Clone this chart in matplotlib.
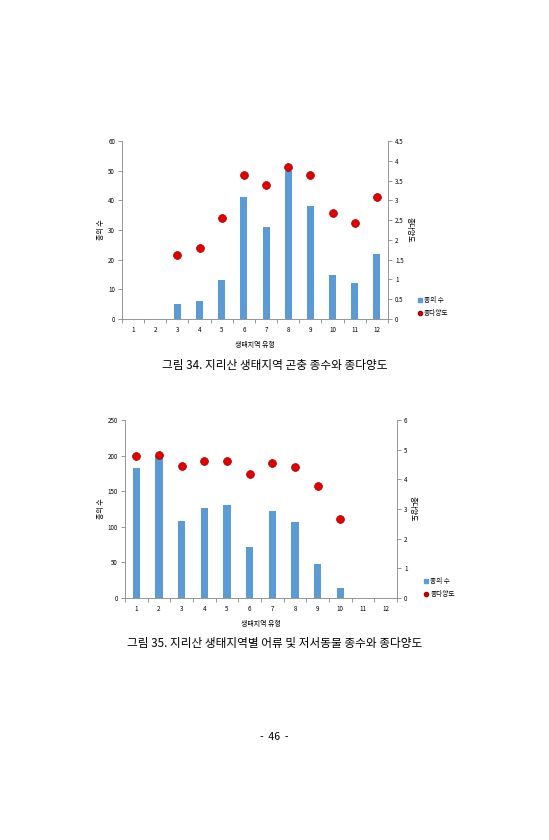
import numpy as np
import matplotlib.pyplot as plt
from matplotlib.lines import Line2D

plt.rcParams['font.family'] = ['Noto Sans CJK KR', 'DejaVu Sans']

categories = ['1', '2', '3', '4', '5', '6', '7', '8', '9', '10', '11', '12']

# figure 34: insects
insect_species = [0, 0, 5, 6, 13, 41, 31, 50, 38, 15, 12, 22]
insect_diversity = [np.nan, np.nan, 1.62, 1.80, 2.55, 3.65, 3.40, 3.85,
                    3.63, 2.68, 2.44, 3.09]

# figure 35: fish and benthic animals
fish_species = [183, 200, 108, 126, 131, 72, 122, 107, 48, 14, 0, 0]
fish_diversity = [4.78, 4.83, 4.46, 4.62, 4.62, 4.19, 4.55, 4.43, 3.78,
                  2.66, np.nan, np.nan]

bar_color = '#5b9bd5'
dot_color = '#e00000'
axis_color = '#868686'


def draw_chart(fig, rect, species, diversity, ymax, ystep, y2max, y2step,
               legend_pos):
    ax = fig.add_axes(rect)
    x = np.arange(len(categories))
    ax.bar(x, species, width=0.32, color=bar_color, zorder=2)
    ax.set_xlim(-0.5, len(categories) - 0.5)
    ax.set_ylim(0, ymax)
    ax.set_yticks(np.arange(0, ymax + 1e-9, ystep))
    ax.set_xticks(np.arange(-0.5, len(categories), 1.0))
    ax.set_xticklabels([])
    ax.set_xticks(x, minor=True)
    ax.set_xticklabels(categories, minor=True)
    ax.tick_params(axis='x', which='major', length=3, color=axis_color,
                   width=0.6)
    ax.tick_params(axis='x', which='minor', length=0, labelsize=4.5,
                   pad=5)
    ax.tick_params(axis='y', length=3, color=axis_color, width=0.6,
                   labelsize=4.5, pad=2)
    for side in ['top', 'right']:
        ax.spines[side].set_visible(False)
    for side in ['left', 'bottom']:
        ax.spines[side].set_color(axis_color)
        ax.spines[side].set_linewidth(0.6)
    ax.set_ylabel('종의 수', fontsize=5, labelpad=2)
    ax.set_xlabel('생태지역 유형', fontsize=5, labelpad=5)

    ax2 = ax.twinx()
    ax2.scatter(x, diversity, s=32, color=dot_color, edgecolor='#a00000',
                linewidth=0.5, zorder=3)
    ax2.set_ylim(0, y2max)
    ticks2 = np.arange(0, y2max + 1e-9, y2step)
    ax2.set_yticks(ticks2)
    ax2.set_yticklabels(['%g' % t for t in ticks2])
    ax2.tick_params(axis='y', length=3, color=axis_color, width=0.6,
                    labelsize=4.5, pad=2)
    for side in ['top', 'left', 'bottom']:
        ax2.spines[side].set_visible(False)
    ax2.spines['right'].set_color(axis_color)
    ax2.spines['right'].set_linewidth(0.6)
    ax2.set_ylabel('종다양도', fontsize=5, rotation=270, labelpad=7)

    handles = [
        Line2D([], [], marker='s', linestyle='none', color=bar_color,
               markersize=2.8),
        Line2D([], [], marker='o', linestyle='none', color=dot_color,
               markeredgecolor='#a00000', markersize=3.0),
    ]
    fig.legend(handles, ['종의 수', '종다양도'], loc='center left',
               bbox_to_anchor=legend_pos, frameon=False, fontsize=4.8,
               handletextpad=0.3, labelspacing=0.7, handlelength=0.6)


fig = plt.figure(figsize=(5.49, 8.4), dpi=100)

draw_chart(fig, [0.2222, 0.6202, 0.4845, 0.2119], insect_species,
           insect_diversity, 60, 10, 4.5, 0.5, (0.75, 0.635))
fig.text(0.5, 1 - 366 / 840, '그림 34. 지리산 생태지역 곤충 종수와 종다양도',
         ha='center', va='center', fontsize=8.4)

draw_chart(fig, [0.2277, 0.2881, 0.4954, 0.2119], fish_species,
           fish_diversity, 250, 50, 6, 1, (0.762, 0.3005))
fig.text(0.5, 1 - 644 / 840,
         '그림 35. 지리산 생태지역별 어류 및 저서동물 종수와 종다양도',
         ha='center', va='center', fontsize=8.4)

fig.text(0.5, 1 - 737 / 840, '-  46  -', ha='center', va='center',
         fontsize=7.5)

fig.savefig('out.png', dpi=100, facecolor='white')
